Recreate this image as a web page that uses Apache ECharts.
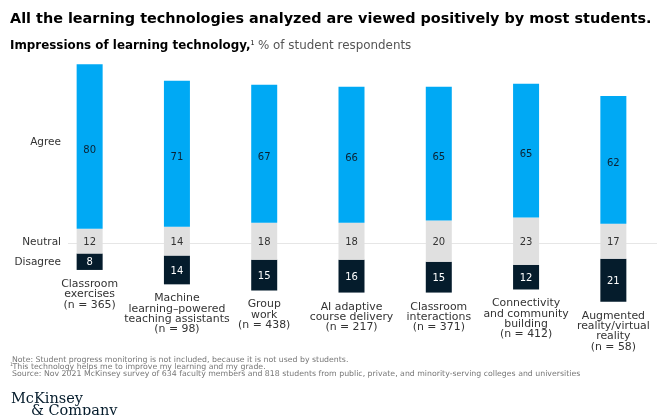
<!DOCTYPE html>
<html>
<head>
<meta charset="utf-8">
<script src="https://cdn.jsdelivr.net/npm/echarts@6/dist/echarts.min.js"></script>
<style>
  html, body { margin: 0; padding: 0; background: #fff; }
  #chart { width: 657px; height: 415px; }
</style>
</head>
<body>
<div id="chart"></div>
<script>
// Student impressions of each learning technology, % of respondents
const categories = [
  'Classroom\nexercises\n(n = 365)',
  'Machine\nlearning\u2013powered\nteaching assistants\n(n = 98)',
  'Group\nwork\n(n = 438)',
  'AI adaptive\ncourse delivery\n(n = 217)',
  'Classroom\ninteractions\n(n = 371)',
  'Connectivity\nand community\nbuilding\n(n = 412)',
  'Augmented\nreality/virtual\nreality\n(n = 58)'
];
const agree    = [80, 71, 67, 66, 65, 65, 62];
const neutral  = [12, 14, 18, 18, 20, 23, 17];
const disagree = [8, 14, 15, 16, 15, 12, 21];

// The neutral block is centred on a common line; CENTER is that line's value
const CENTER = 50;
const base = neutral.map((n, i) => CENTER - n / 2 - disagree[i]);

const FONT = '"DejaVu Sans", Verdana, sans-serif';
const SERIF = '"DejaVu Serif", "Liberation Serif", serif';
const NAVY = '#051C2C';
const BLUE = '#00A9F4';
const GREY = '#E0E0E0';

const chart = echarts.init(document.getElementById('chart'), null, { renderer: 'canvas' });

const valueLabel = (color, offset) => ({
  show: true,
  position: 'inside',
  color: color,
  fontFamily: FONT,
  fontSize: 10,
  offset: offset || [0, 0]
});

chart.setOption({
  animation: false,
  grid: { left: 46, right: -4, top: 56, bottom: 71 },
  xAxis: {
    type: 'category',
    data: categories,
    axisLine: { show: false },
    axisTick: { show: false },
    axisLabel: { show: false }
  },
  yAxis: {
    type: 'value',
    min: 0,
    max: 140,
    show: false,
    splitLine: { show: false }
  },
  series: [
    {
      name: 'base',
      type: 'bar',
      stack: 'total',
      barWidth: 26,
      data: base,
      itemStyle: { color: 'rgba(0,0,0,0)' },
      silent: true,
      label: {
        show: true,
        position: 'insideTop',
        distance: 9,
        formatter: p => categories[p.dataIndex],
        color: '#333',
        fontFamily: FONT,
        fontSize: 10.9,
        lineHeight: 10.3,
        align: 'center'
      }
    },
    {
      name: 'Disagree',
      type: 'bar',
      stack: 'total',
      data: disagree,
      itemStyle: { color: NAVY },
      label: valueLabel('#ffffff', [0, 1])
    },
    {
      name: 'Neutral',
      type: 'bar',
      stack: 'total',
      data: neutral,
      itemStyle: { color: GREY },
      label: valueLabel('#333333', [0, 1.5])
    },
    {
      name: 'Agree',
      type: 'bar',
      stack: 'total',
      data: agree,
      itemStyle: { color: BLUE },
      label: valueLabel('#0b2233', [0, 4])
    }
  ]
});

// Segment names beside the first bar, plus the neutral centre line
const yPx = v => chart.convertToPixel({ yAxisIndex: 0 }, v);
const lineY = Math.round(yPx(CENTER) + 1.5) + 0.5;
const agreeMid = yPx(CENTER + neutral[0] / 2 + agree[0] / 2) - 4;
const disagreeMid = yPx(CENTER - neutral[0] / 2 - disagree[0] / 2) + 0.5;

const sideText = (txt, y) => ({
  type: 'text',
  x: 61,
  y: y,
  style: {
    text: txt,
    align: 'right',
    verticalAlign: 'middle',
    fill: '#333',
    font: '10.5px ' + FONT
  }
});

const NOTE_GREY = '#777';
const note = (txt, x, y, size) => ({
  type: 'text',
  x: x, y: y,
  style: {
    text: txt,
    verticalAlign: 'middle',
    fill: NOTE_GREY,
    font: (size || 7.8) + 'px ' + FONT
  }
});

chart.setOption({
  graphic: [
    {
      type: 'line',
      z: -10,
      shape: { x1: 68, y1: lineY, x2: 657, y2: lineY },
      style: { stroke: '#E6E6E6', lineWidth: 1 }
    },
    sideText('Agree', agreeMid),
    sideText('Neutral', yPx(CENTER) + 1.5),
    sideText('Disagree', disagreeMid),
    {
      type: 'text',
      x: 10, y: 19,
      style: {
        text: 'All the learning technologies analyzed are viewed positively by most students.',
        verticalAlign: 'middle',
        fill: '#000',
        font: 'bold 14.4px ' + FONT
      }
    },
    {
      type: 'text',
      x: 10, y: 46,
      style: {
        text: '{b|Impressions of learning technology,}{s|1} {n|% of student respondents}',
        verticalAlign: 'middle',
        rich: {
          b: { fontFamily: FONT, fontWeight: 'bold', fontSize: 11.9, fill: '#000' },
          s: { fontFamily: FONT, fontSize: 6.5, fill: '#000', verticalAlign: 'top', padding: [0, 0, 6, 0] },
          n: { fontFamily: FONT, fontSize: 11.9, fill: '#555' }
        }
      }
    },
    note('Note: Student progress monitoring is not included, because it is not used by students.', 12, 359.8),
    note('1', 10, 365.2, 4.8),
    note('This technology helps me to improve my learning and my grade.', 12.5, 367.1),
    note('Source: Nov 2021 McKinsey survey of 634 faculty members and 818 students from public, private, and minority-serving colleges and universities', 12, 374.4),
    {
      type: 'text',
      x: 11, y: 399,
      style: {
        text: 'McKinsey',
        verticalAlign: 'middle',
        fill: NAVY,
        font: '14.5px ' + SERIF
      }
    },
    {
      type: 'text',
      x: 31, y: 411.5,
      style: {
        text: '& Company',
        verticalAlign: 'middle',
        fill: NAVY,
        font: '14.5px ' + SERIF
      }
    }
  ]
});
</script>
</body>
</html>
